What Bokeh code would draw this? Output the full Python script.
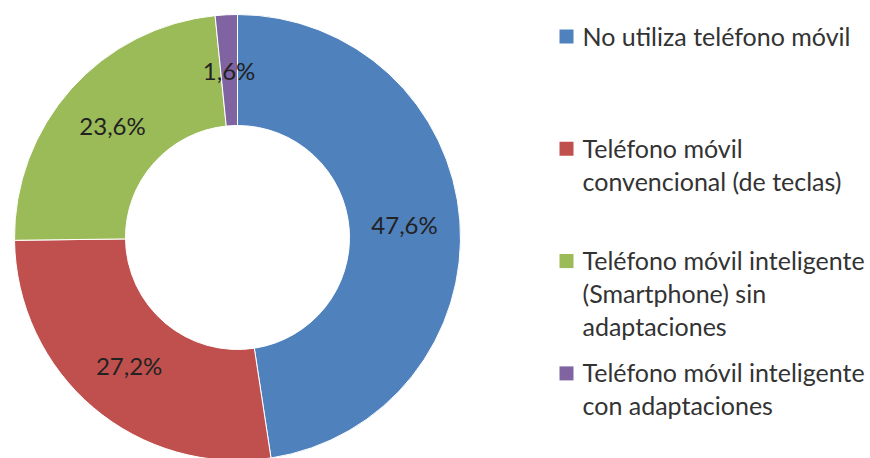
import math
from bokeh.plotting import figure
from bokeh.models import Range1d, ColumnDataSource
from bokeh.core.properties import value
from bokeh.embed import file_html
from bokeh.resources import INLINE

# ---- data ----
categories = [
    "No utiliza teléfono móvil",
    "Teléfono móvil convencional (de teclas)",
    "Teléfono móvil inteligente (Smartphone) sin adaptaciones",
    "Teléfono móvil inteligente con adaptaciones",
]
values = [47.6, 27.2, 23.6, 1.6]
value_labels = ["47,6%", "27,2%", "23,6%", "1,6%"]
legend_lines = [
    ["No utiliza teléfono móvil"],
    ["Teléfono móvil", "convencional (de teclas)"],
    ["Teléfono móvil inteligente", "(Smartphone) sin", "adaptaciones"],
    ["Teléfono móvil inteligente", "con adaptaciones"],
]
colors = ["#4F81BD", "#C0504D", "#9BBB59", "#8064A2"]

# ---- layout (pixels; data units == screen pixels) ----
W, H = 870, 458
cx, cy = 237, 221
r_out, r_in = 223, 112
FONT = "Lato"

total = sum(values)
starts, ends, lx, ly = [], [], [], []
acc = 0.0
for v in values:
    a0 = math.pi / 2 - 2 * math.pi * acc / total
    a1 = math.pi / 2 - 2 * math.pi * (acc + v) / total
    starts.append(a0)
    ends.append(a1)
    mid = (a0 + a1) / 2
    rm = (r_in + r_out) / 2
    lx.append(cx + rm * math.cos(mid))
    ly.append(cy + rm * math.sin(mid))
    acc += v

src = ColumnDataSource(dict(start=starts, end=ends, color=colors, cat=categories,
                            lx=lx, ly=ly, lab=value_labels))

p = figure(width=W, height=H, output_backend="svg", toolbar_location=None,
           x_range=Range1d(0, W), y_range=Range1d(0, H), min_border=0)
p.axis.visible = False
p.xgrid.visible = False
p.ygrid.visible = False
p.outline_line_color = None
p.background_fill_color = "white"

p.annular_wedge(x=cx, y=cy, inner_radius=r_in, outer_radius=r_out,
                start_angle="start", end_angle="end", direction="clock",
                fill_color="color", line_color="white", line_width=1, source=src)

p.text(x="lx", y="ly", text="lab", source=src, text_align="center",
       text_baseline="middle", text_font=value(FONT), text_font_size="24px",
       text_color="#222222")

# legend
leg_x_sq, leg_x_txt = 566, 582
first_y, item_gap, line_gap = 423, 112.3, 33
tx, ty, tt, sx, sy, sc = [], [], [], [], [], []
for i, lines in enumerate(legend_lines):
    y0 = first_y - i * item_gap
    sx.append(leg_x_sq)
    sy.append(y0 - 1)
    sc.append(colors[i])
    for j, line in enumerate(lines):
        tx.append(leg_x_txt)
        ty.append(y0 - j * line_gap)
        tt.append(line)

p.rect(x=sx, y=sy, width=14, height=14, fill_color=sc, line_color=None)
p.text(x=tx, y=ty, text=tt, text_align="left", text_baseline="middle",
       text_font=value(FONT), text_font_size="25px", text_color="#333333")

open("out.html", "w").write(file_html(p, INLINE))
